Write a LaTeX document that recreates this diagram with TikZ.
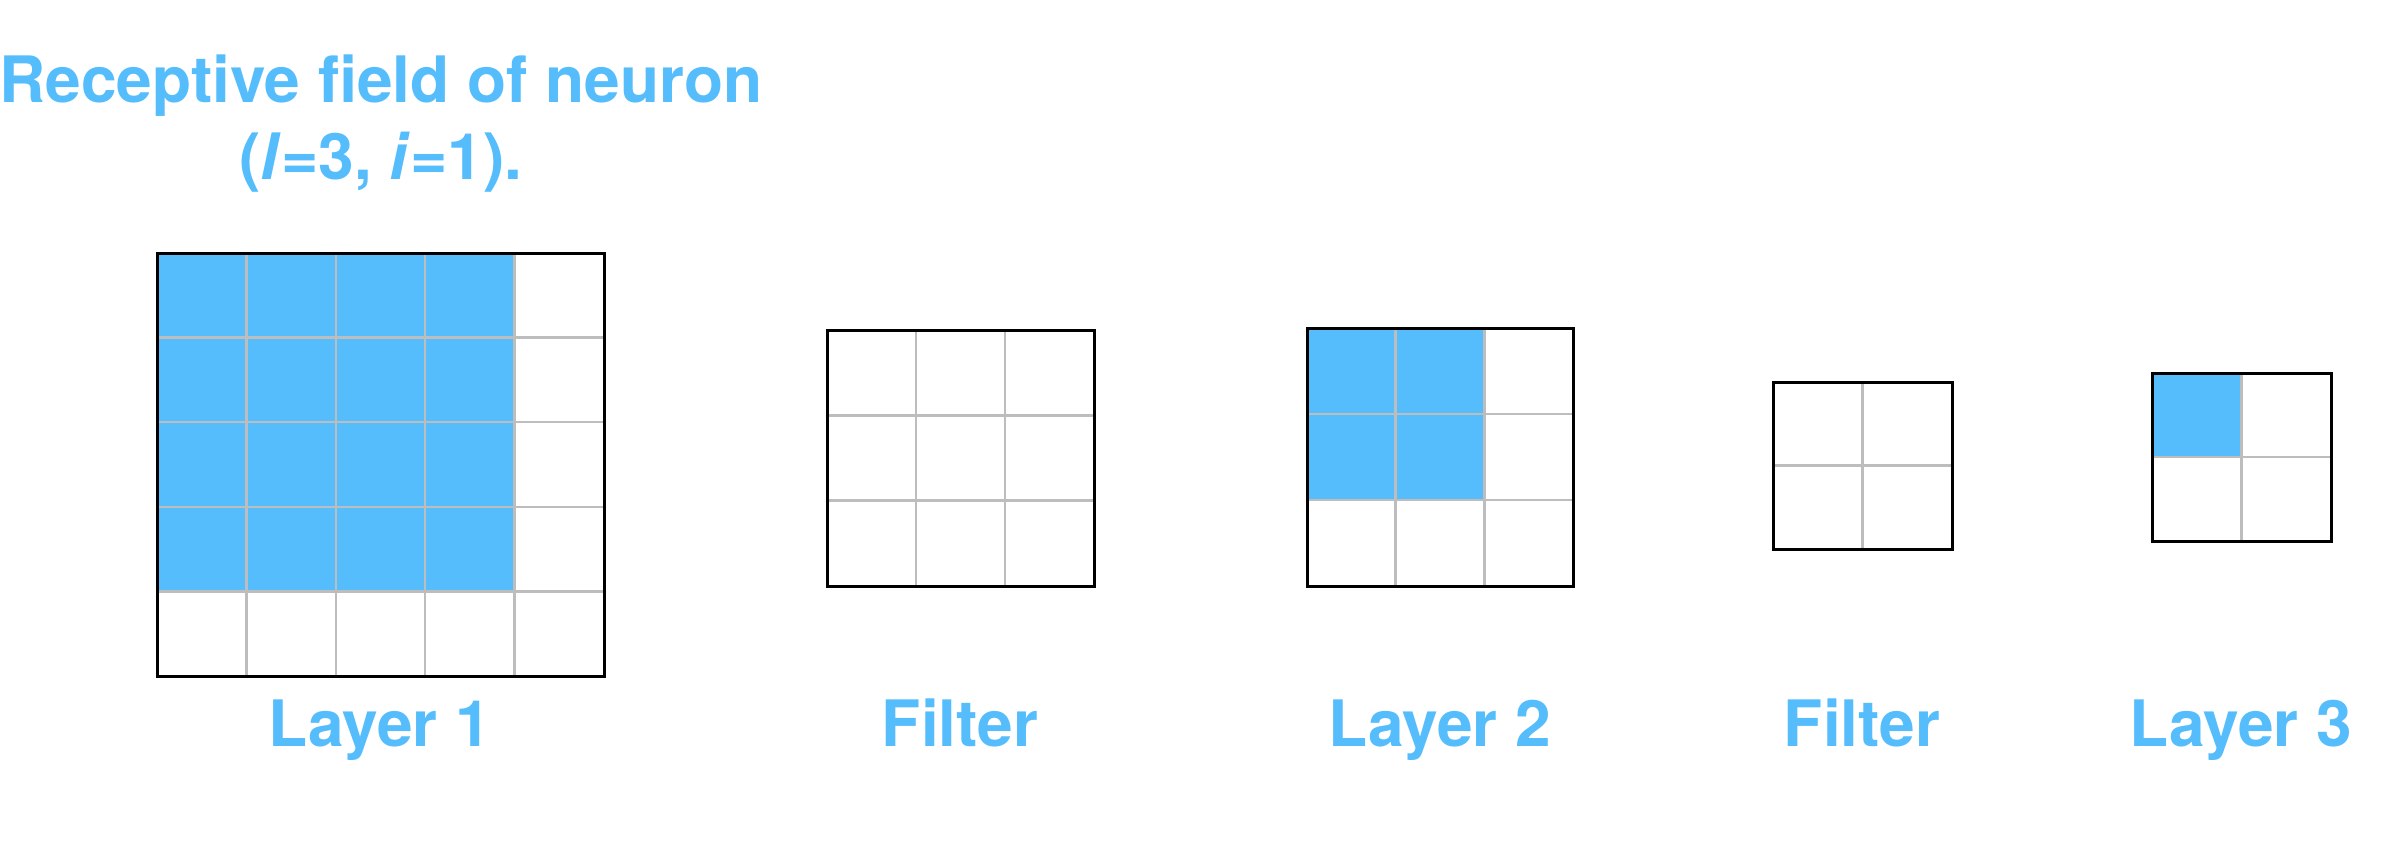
\documentclass[tikz,border=0pt]{standalone}
\usepackage{fontspec}
\setmainfont{TeX Gyre Heros}
\usetikzlibrary{fit}
\definecolor{cblue}{HTML}{56BDFD}
\definecolor{cgrid}{HTML}{BDBDBD}
\tikzset{
  gridline/.style={draw=cgrid, line width=2.5pt},
  frame/.style={draw=black, line width=3pt},
  lbl/.style={text=cblue, font=\fontsize{64}{77}\selectfont\bfseries, inner sep=0pt, anchor=base},
}
\newcommand\cnngrid[8]{%
  \coordinate (#1-nw) at (#2,#3);
  \coordinate (#1-se) at (#4,#5);
  \fill[cblue] (#2,#3) rectangle ({#2+(#4-#2)*#8/#6},{#3+(#5-#3)*#8/#7});
  \pgfmathtruncatemacro\cnnc{#6-1}
  \pgfmathtruncatemacro\cnnr{#7-1}
  \foreach \k in {1,...,\cnnc}{\draw[gridline] ({#2+(#4-#2)*\k/#6},#3) -- ({#2+(#4-#2)*\k/#6},#5);}
  \foreach \k in {1,...,\cnnr}{\draw[gridline] (#2,{#3+(#5-#3)*\k/#7}) -- (#4,{#3+(#5-#3)*\k/#7});}
  \node[frame, inner sep=0pt, fit=(#1-nw)(#1-se)] (#1) {};
}
\begin{document}
\begin{tikzpicture}[x=1pt,y=-1pt]
  \fill[white] (0,0) rectangle (2402,841);
  \useasboundingbox (0,0) rectangle (2402,841);
  \node[lbl] (title1) at (381,102) {Receptive field of neuron};
  \node[lbl] (title2) at (381,179) {(\textit{l}=3, \textit{i}=1).};
  \cnngrid{L1}{157}{253}{604}{676}{5}{5}{4}
  \cnngrid{F1}{827}{330}{1094}{586}{3}{3}{0}
  \cnngrid{L2}{1307}{328}{1573}{586}{3}{3}{2}
  \cnngrid{F2}{1773}{382}{1952}{549}{2}{2}{0}
  \cnngrid{L3}{2152}{373}{2331}{541}{2}{2}{1}
  \node[lbl] (lab1) at (380,746) {Layer 1};
  \node[lbl] (lab2) at (960,746) {Filter};
  \node[lbl] (lab3) at (1440,746) {Layer 2};
  \node[lbl] (lab4) at (1862,746) {Filter};
  \node[lbl] (lab5) at (2241,746) {Layer 3};
\end{tikzpicture}
\end{document}
